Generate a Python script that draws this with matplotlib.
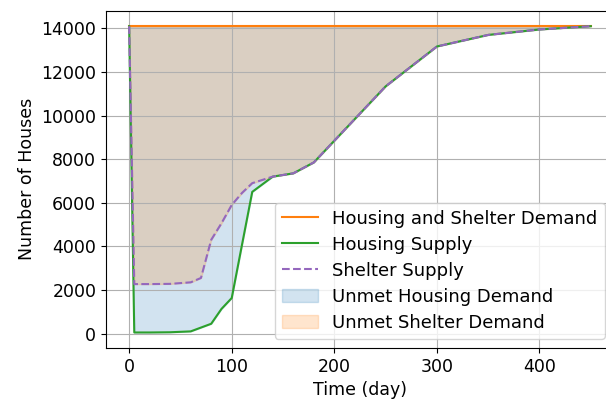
import numpy as np
import matplotlib.pyplot as plt

# data
time = [0, 5, 20, 40, 60, 70, 80, 90, 100, 110, 120, 140, 160, 180, 250, 300, 350, 400, 450]
demand = [14100] * len(time)
housing = [14100, 50, 50, 60, 100, 275, 450, 1130, 1630, 4070, 6500, 7200, 7350, 7850,
           11340, 13170, 13700, 13950, 14100]
shelter = [14100, 2270, 2270, 2280, 2350, 2550, 4300, 5060, 5900, 6450, 6900, 7200, 7350, 7850,
           11340, 13170, 13700, 13950, 14100]

plt.rcParams['font.size'] = 12.5

fig = plt.figure(figsize=(6.06, 4.03), dpi=100)
ax = fig.add_axes([0.175, 0.137, 0.838, 0.836])

ax.plot(time, demand, color='C1', label='Housing and Shelter Demand')
ax.plot(time, housing, color='C2', label='Housing Supply')
ax.plot(time, shelter, color='C4', linestyle='--', label='Shelter Supply')
ax.fill_between(time, housing, demand, color='C0', alpha=0.2, label='Unmet Housing Demand')
ax.fill_between(time, shelter, demand, color='C1', alpha=0.2, label='Unmet Shelter Demand')

ax.set_xlabel('Time (day)')
ax.set_ylabel('Number of Houses')
ax.grid(True)
ax.legend(loc='lower right', fontsize=13, labelspacing=0.44)

fig.savefig('out.png', dpi=100)
